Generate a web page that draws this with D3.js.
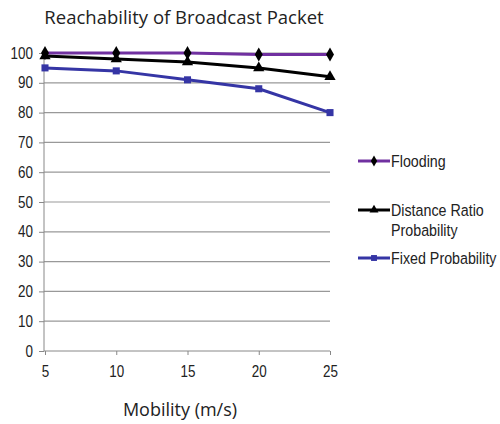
<!DOCTYPE html>
<html><head><meta charset="utf-8">
<script src="https://cdn.jsdelivr.net/npm/d3@7"></script>
<style>body{margin:0;background:#fff}</style>
</head><body><svg id="c" width="500" height="424"></svg>
<script>
const mobility = [5, 10, 15, 20, 25];
const flooding = [100, 100, 100, 99.5, 99.5];
const distanceRatio = [99, 98, 97, 95, 92];
const fixedProb = [95, 94, 91, 88, 80];
const yTicks = [0,10,20,30,40,50,60,70,80,90,100];
const seriesNames = ["Flooding", "Distance Ratio Probability", "Fixed Probability"];

const svg = d3.select("#c");
const x = d3.scaleLinear().domain([5,25]).range([45,330]);
const y = d3.scaleLinear().domain([0,100]).range([351,53]);
const tickFont = "'Liberation Sans',Arial,sans-serif";
const SX = 0.84;

svg.append("text").attr("x",184).attr("y",24).attr("text-anchor","middle")
  .attr("font-family","'Open Sans',sans-serif").attr("font-size",18.5).attr("fill","#222")
  .text("Reachability of Broadcast Packet");

// gridlines
svg.append("g").selectAll("line").data(yTicks.filter(d=>d>0)).join("line")
  .attr("x1",44).attr("x2",330).attr("y1",d=>y(d)).attr("y2",d=>y(d))
  .attr("stroke","#999").attr("stroke-width",1.2);

const ya = svg.append("g").attr("transform","translate(44,0)")
  .call(d3.axisLeft(y).tickValues(yTicks).tickSize(5).tickPadding(11));
ya.select(".domain").attr("stroke","#888").attr("d",`M0,${y(100)}V${y(0)}`);
ya.selectAll(".tick line").attr("stroke","#888");
ya.selectAll("text").attr("font-family",tickFont).attr("font-size",16).attr("fill","#222")
  .attr("x",-11/SX).attr("transform",`scale(${SX},1)`);

const xa = svg.append("g").attr("transform",`translate(0,${y(0)})`)
  .call(d3.axisBottom(x).tickValues(mobility).tickSize(4).tickPadding(11));
xa.select(".domain").attr("stroke","#888").attr("d",`M44,0H330`);
xa.selectAll(".tick line").attr("stroke","#888");
xa.selectAll("text").attr("font-family",tickFont).attr("font-size",16).attr("fill","#222")
  .attr("transform",`scale(${SX},1)`);

svg.append("text").attr("x",180).attr("y",416).attr("text-anchor","middle")
  .attr("font-family","'Open Sans',sans-serif").attr("font-size",18).attr("fill","#222")
  .text("Mobility (m/s)");

const series = [
  {name:seriesNames[0], vals:flooding, color:"#7030a0", sym:d3.symbolDiamond},
  {name:seriesNames[1], vals:distanceRatio, color:"#000000", sym:d3.symbolTriangle},
  {name:seriesNames[2], vals:fixedProb, color:"#3535a5", sym:d3.symbolSquare}
];
const line = d3.line().x((d,i)=>x(mobility[i])).y(d=>y(d));
series.forEach(s=>{
  svg.append("path").attr("d",line(s.vals)).attr("fill","none")
    .attr("stroke",s.color).attr("stroke-width",3);
});
series.forEach(s=>{
  const mc = s.sym===d3.symbolSquare ? s.color : "#000";
  svg.append("g").selectAll("path").data(s.vals).join("path")
    .attr("transform",(d,i)=>`translate(${x(mobility[i])},${y(d)})`)
    .attr("d",d3.symbol().type(s.sym).size(s.sym===d3.symbolSquare?50:55))
    .attr("fill",mc);
});

// legend
const leg = [{s:series[0], y:161, lines:["Flooding"]},
             {s:series[1], y:210, lines:["Distance Ratio","Probability"]},
             {s:series[2], y:258, lines:["Fixed Probability"]}];
leg.forEach(l=>{
  svg.append("line").attr("x1",358).attr("x2",390).attr("y1",l.y).attr("y2",l.y)
    .attr("stroke",l.s.color).attr("stroke-width",3);
  const mc = l.s.sym===d3.symbolSquare ? l.s.color : "#000";
  svg.append("path").attr("transform",`translate(374,${l.y})`)
    .attr("d",d3.symbol().type(l.s.sym).size(35)).attr("fill",mc);
  const t = svg.append("text").attr("transform",`translate(391,${l.y+6}) scale(${SX},1)`)
    .attr("font-family",tickFont).attr("font-size",17).attr("fill","#222");
  l.lines.forEach((ln,i)=>t.append("tspan").attr("x",0).attr("dy",i?20:0).text(ln));
});
</script></body></html>
